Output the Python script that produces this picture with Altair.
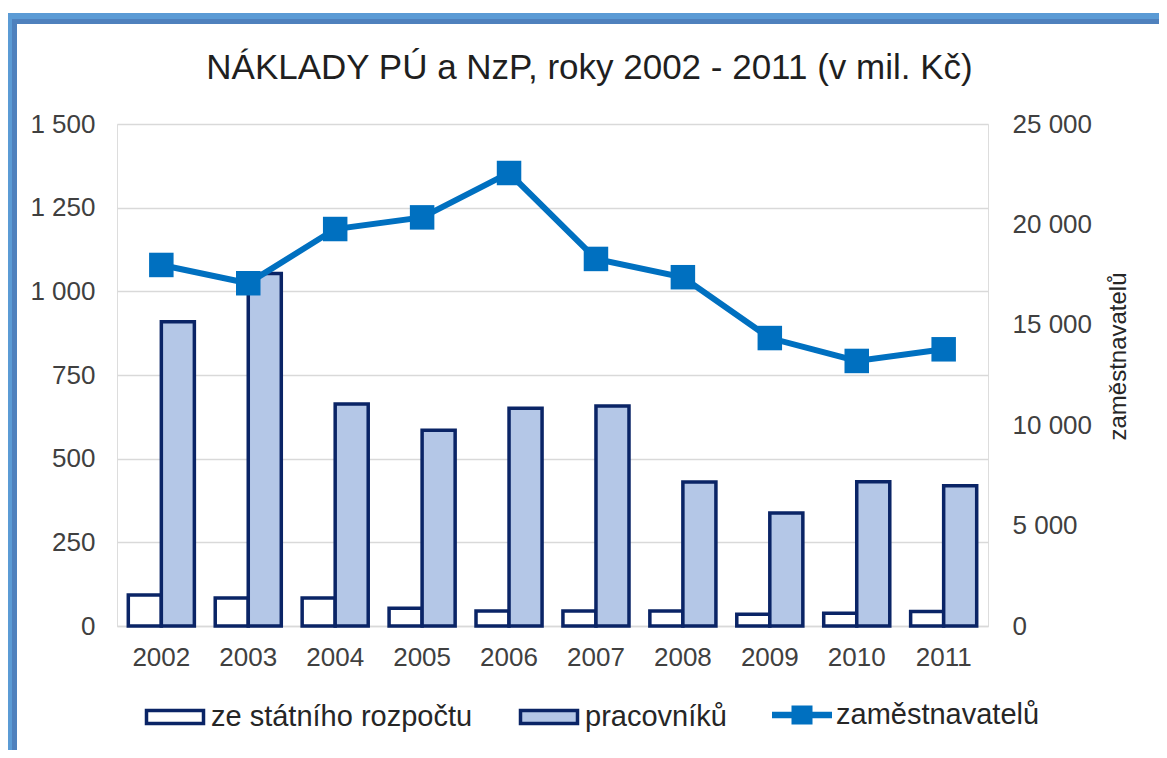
import altair as alt
import pandas as pd

years = ["2002", "2003", "2004", "2005", "2006", "2007", "2008", "2009", "2010", "2011"]
statni = [93, 84, 84, 53, 45, 45, 45, 35, 38, 43]
pracovniku = [909, 1053, 663, 585, 651, 657, 430, 338, 431, 419]
zamestnavatelu = [17980, 17070, 19770, 20350, 22560, 18280, 17370, 14340, 13200, 13780]

bar_names = ["ze státního rozpočtu", "pracovníků"]
bar_colors = ["#FFFFFF", "#B4C7E7"]
line_name = "zaměstnavatelů"
line_color = "#0070C0"
left_ticks = [0, 250, 500, 750, 1000, 1250, 1500]
right_ticks = [0, 5000, 10000, 15000, 20000, 25000]

FONT = "Liberation Sans"
NAVY = "#0A2466"
TXT = "#404040"

bars_df = pd.DataFrame({
    "rok": years * 2,
    "serie": [bar_names[0]] * len(years) + [bar_names[1]] * len(years),
    "hodnota": statni + pracovniku,
})
line_df = pd.DataFrame({
    "rok": years,
    "serie": [line_name] * len(years),
    "hodnota": zamestnavatelu,
})
frame_df = pd.DataFrame({"k": [0]})

fmt = "replace(format(datum.value, ','), regexp(',', 'g'), ' ')"

rect_path = "M-0.95,-0.22H0.95V0.22H-0.95Z"
line_path = "M-1,-0.11H-0.35V-0.32H0.35V-0.11H1V0.11H0.35V0.32H-0.35V0.11H-1Z"

bar_legend = alt.Legend(
    title=None, orient="none", direction="horizontal",
    legendX=26, legendY=561,
    symbolType=rect_path, symbolSize=3600,
    symbolStrokeColor=NAVY, symbolStrokeWidth=3.5, symbolOpacity=1,
    labelFontSize=29, labelFont=FONT, labelColor="#262626",
    labelOffset=4, columnPadding=40, labelLimit=400,
)
line_legend = alt.Legend(
    title=None, orient="none", direction="horizontal",
    legendX=655, legendY=561,
    symbolType=line_path, symbolSize=3600,
    symbolFillColor=line_color, symbolStrokeColor=line_color,
    symbolStrokeWidth=0, symbolOpacity=1,
    labelFontSize=29, labelFont=FONT, labelColor="#262626",
    labelOffset=4, labelLimit=400,
)

x = alt.X(
    "rok:N",
    sort=years,
    title=None,
    scale=alt.Scale(paddingInner=0.24, paddingOuter=0.13),
    axis=alt.Axis(
        labelFontSize=26, labelFont=FONT, labelColor=TXT, labelPadding=18,
        ticks=False, domainColor="#D9D9D9", domainWidth=1.5, labelAngle=0,
    ),
)

bars = alt.Chart(bars_df).mark_bar(stroke=NAVY, strokeWidth=3.5, strokeJoin="miter").encode(
    x=x,
    xOffset=alt.XOffset("serie:N", sort=bar_names),
    y=alt.Y(
        "hodnota:Q",
        stack=None,
        title=None,
        scale=alt.Scale(domain=[0, 1500]),
        axis=alt.Axis(
            orient="left", values=left_ticks, labelExpr=fmt, labelFontSize=26,
            labelFont=FONT, labelColor=TXT, labelPadding=22, ticks=False,
            domain=False, grid=True, gridColor="#D9D9D9", gridWidth=1.5,
        ),
    ),
    fill=alt.Fill(
        "serie:N",
        scale=alt.Scale(domain=bar_names, range=bar_colors),
        legend=bar_legend,
    ),
)

y_right = alt.Y(
    "hodnota:Q",
    title="zaměstnavatelů",
    scale=alt.Scale(domain=[0, 25000]),
    axis=alt.Axis(
        orient="right", values=right_ticks, labelExpr=fmt, labelFontSize=26,
        labelFont=FONT, labelColor=TXT, labelPadding=24, ticks=False,
        domain=False, grid=False, titleFont=FONT, titleFontSize=24,
        titleFontWeight="normal", titleColor="#262626", titleAngle=270,
        titleX=130, titleY=232, titleAlign="center", titleBaseline="middle",
    ),
)

color = alt.Color(
    "serie:N",
    scale=alt.Scale(domain=[line_name], range=[line_color]),
    legend=line_legend,
)

line = alt.Chart(line_df).mark_line(strokeWidth=6).encode(
    x=x, y=y_right, color=color,
)
points = alt.Chart(line_df).mark_square(size=600, filled=True, opacity=1).encode(
    x=x, y=y_right, color=color,
)

frame_outer = alt.Chart(frame_df).mark_rect(color="#5B9BD5").encode(
    x=alt.value(-112), x2=alt.value(-105), y=alt.value(-111), y2=alt.value(700)
)
frame_outer_top = alt.Chart(frame_df).mark_rect(color="#5B9BD5").encode(
    x=alt.value(-112), x2=alt.value(1200), y=alt.value(-111), y2=alt.value(-105)
)
frame_inner = alt.Chart(frame_df).mark_rect(color="#4F81BD").encode(
    x=alt.value(-105), x2=alt.value(-100), y=alt.value(-105), y2=alt.value(700)
)
frame_inner_top = alt.Chart(frame_df).mark_rect(color="#4F81BD").encode(
    x=alt.value(-105), x2=alt.value(1200), y=alt.value(-105), y2=alt.value(-100)
)

chart = alt.layer(
    frame_outer, frame_outer_top, frame_inner, frame_inner_top,
    bars, alt.layer(line, points),
).resolve_scale(y="independent").properties(
    width=871,
    height=502,
    padding={"left": 109, "top": 116, "right": 171, "bottom": 124},
    autosize=alt.AutoSizeParams(type="none"),
    title=alt.TitleParams(
        "NÁKLADY PÚ a NzP, roky 2002 - 2011 (v mil. Kč)",
        font=FONT, fontSize=35, fontWeight="normal", color="#1F1F1F",
        anchor="middle", dx=37, dy=131, offset=30, baseline="alphabetic",
    ),
).configure_view(stroke=None).configure(background="white")

chart.save("out.html", embed_options={"renderer": "svg", "actions": False})
